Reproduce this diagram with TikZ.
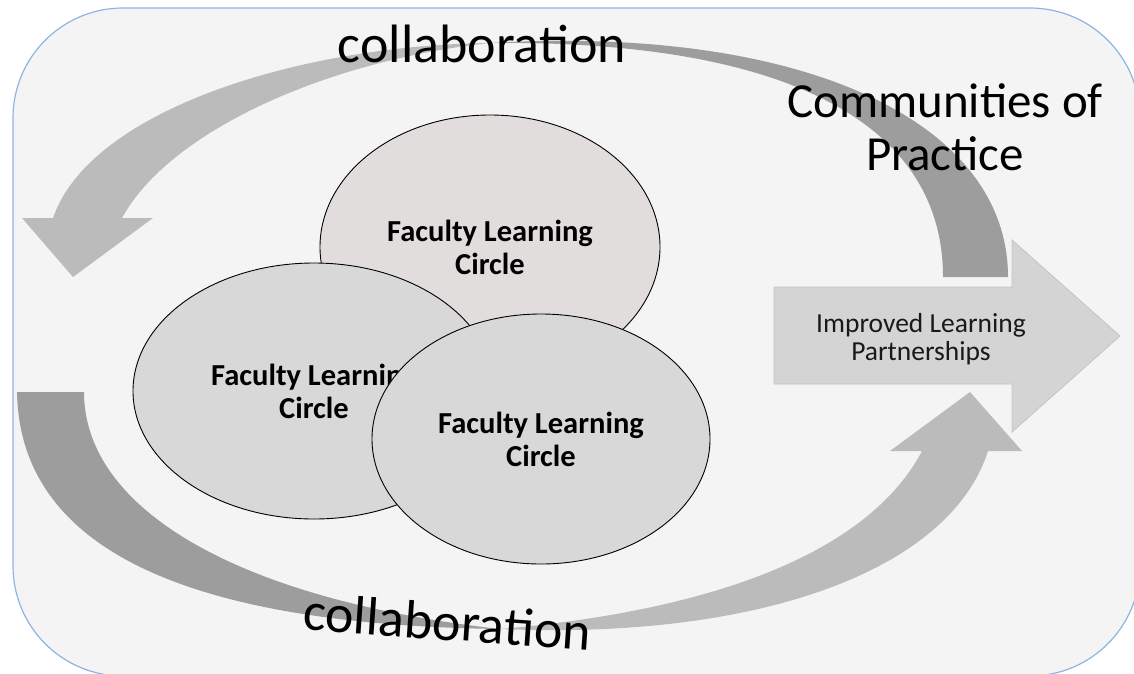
\documentclass[tikz,border=0pt]{standalone}
\usepackage{fontspec}
\setmainfont{Carlito}
\usetikzlibrary{shapes.geometric}
\definecolor{bgfill}{HTML}{F4F4F4}
\definecolor{bgline}{HTML}{8DB4E2}
\definecolor{banddark}{HTML}{9D9D9D}
\definecolor{bandlight}{HTML}{BBBBBB}
\definecolor{arrowfill}{HTML}{D4D4D4}
\definecolor{arrowline}{HTML}{C4C4C4}
\definecolor{topell}{HTML}{E1DDDD}
\definecolor{ellfill}{HTML}{D8D8D8}
\begin{document}
\begin{tikzpicture}[x=1pt,y=-1pt,
  circ/.style={ellipse, draw=black, line width=0.9pt, inner sep=0pt, align=center,
    font=\fontsize{30.5}{33}\selectfont\bfseries},
  bigtext/.style={font=\fontsize{54}{58}\selectfont, inner sep=0pt},
  headtext/.style={font=\fontsize{49}{53}\selectfont, inner sep=0pt, align=center},
  arrowtext/.style={font=\fontsize{27.5}{28}\selectfont, inner sep=0pt, align=center, text=black!90}]
\useasboundingbox (0,0) rectangle (1134,673);
% background panel
\draw[bgline, fill=bgfill, line width=1.2pt, rounded corners=110pt] (13,8) rectangle (1140,676);
% top band: light part ending in the left arrowhead
\coordinate (tj) at (490,43);
\fill[bandlight] (tj) .. controls (300,45) and (90,110) .. (53,218)
  -- (22,218) -- (73,277) -- (153,218) -- (122,218)
  .. controls (170,130) and (330,60) .. (tj) -- cycle;
% top band: dark part with its tail on the right
\fill[banddark] (tj) .. controls (800,25) and (1008,120) .. (1008,277)
  -- (943,277) .. controls (943,120) and (780,40) .. (tj) -- cycle;
% bottom band: dark part with its tail on the left
\coordinate (bj) at (500,629);
\fill[banddark] (17,392) -- (84,392) .. controls (84,510) and (240,600) .. (bj)
  .. controls (210,625) and (20,560) .. (17,392) -- cycle;
% bottom band: light part ending in the right arrowhead
\fill[bandlight] (bj) .. controls (760,640) and (950,570) .. (988,451)
  -- (1022,451) -- (970,392) -- (890,451) -- (922,451)
  .. controls (870,550) and (720,610) .. (bj) -- cycle;
% block arrow
\draw[arrowline, fill=arrowfill, line width=0.8pt] (774,287) -- (1012,287) -- (1012,240) -- (1120,336)
  -- (1012,432) -- (1012,384) -- (774,384) -- cycle;
\node[arrowtext, anchor=base] (ilp) at (921,360) {Improved Learning\\Partnerships};
% circles
\node[circ, fill=topell, minimum width=340, minimum height=264] (c1) at (490,247) {Faculty Learning\\Circle};
\node[circ, fill=ellfill, minimum width=362, minimum height=256] (c2) at (314,391) {Faculty Learning\\Circle};
\node[circ, fill=ellfill, minimum width=338, minimum height=250] (c3) at (541,439) {Faculty Learning\\Circle};
% labels
\node[bigtext, anchor=base] (collabtop) at (482,62) {collaboration};
\node[bigtext, anchor=base, rotate=-4] (collabbot) at (446,640) {collaboration};
\node[headtext, anchor=base] (cop) at (945,170) {Communities of\\Practice};
\end{tikzpicture}
\end{document}
